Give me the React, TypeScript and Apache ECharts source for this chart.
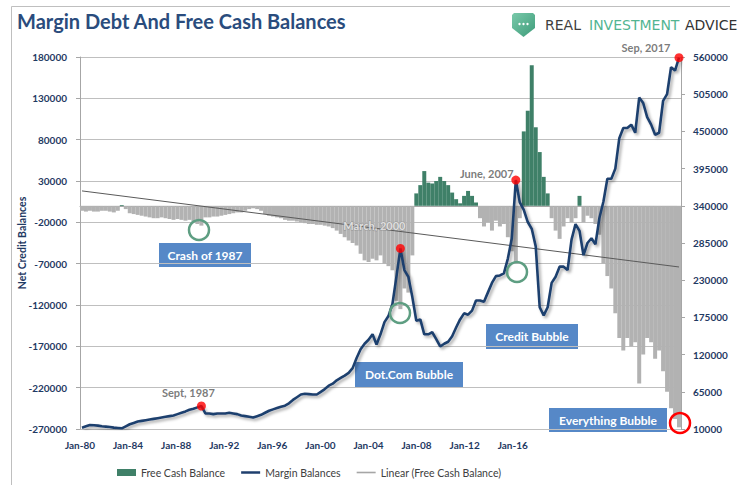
import React, { useEffect, useRef } from 'react';
import * as echarts from 'echarts';

// Quarterly categories, 1980 Q1 .. 2017 Q3
const startYear = 1980;
const quarterCount = 151;
const quarters: string[] = Array.from({ length: quarterCount }, (_, i) => `${startYear + Math.floor(i / 4)}Q${(i % 4) + 1}`);

const xTickLabels = ['Jan-80', 'Jan-84', 'Jan-88', 'Jan-92', 'Jan-96', 'Jan-00', 'Jan-04', 'Jan-08', 'Jan-12', 'Jan-16'];

// Margin balances (right axis), quarterly
const marginBalances = [
  12000, 14000, 16000, 15500, // 1980
  15000, 14000, 13500, 13000, // 1981
  12000, 11500, 11000, 14000, // 1982
  17000, 19000, 21000, 22000, // 1983
  23000, 24000, 25000, 26000, // 1984
  27000, 28000, 29000, 30000, // 1985
  32000, 34000, 36000, 38500, // 1986
  40000, 42000, 44000, 33000, // 1987
  33000, 32000, 33000, 33000, // 1988
  33000, 34000, 33000, 32000, // 1989
  30000, 29000, 28000, 27000, // 1990
  29000, 31000, 34000, 37000, // 1991
  39000, 41000, 43000, 44500, // 1992
  48000, 53000, 57000, 61000, // 1993
  62000, 61500, 61000, 61000, // 1994
  65000, 69000, 74000, 77000, // 1995
  82000, 85500, 89000, 93000, // 1996
  100000, 115000, 128000, 136000, // 1997
  142000, 150000, 135000, 150000, // 1998
  168000, 177000, 195000, 235000, // 1999
  277000, 245000, 235000, 205000, // 2000
  170000, 172000, 150000, 150000, // 2001
  153000, 143000, 132000, 136000, // 2002
  139000, 147000, 160000, 172000, // 2003
  181000, 179000, 185000, 200000, // 2004
  200000, 198000, 212000, 226000, // 2005
  236000, 237000, 240000, 262000, // 2006
  292000, 378000, 345000, 334000, // 2007
  316000, 306000, 280000, 190000, // 2008
  178000, 190000, 226000, 235000, // 2009
  250000, 250000, 245000, 290000, // 2010
  313000, 303000, 267000, 285000, // 2011
  292000, 283000, 322000, 346000, // 2012
  380000, 380000, 395000, 440000, // 2013
  455000, 455000, 460000, 448000, // 2014
  500000, 492000, 471000, 460000, // 2015
  445000, 448000, 495000, 505000, // 2016
  545000, 540000, 559000, // 2017
];

// Free cash balance (left axis), quarterly
const freeCash = [
  -6000, -7000, -6000, -7000, // 1980
  -7000, -6000, -6000, -7000, // 1981
  -8000, -6000, 1000, -4000, // 1982
  -9000, -10000, -11000, -12000, // 1983
  -13000, -14000, -15000, -15000, // 1984
  -14000, -15000, -16000, -17000, // 1985
  -16000, -17000, -18000, -17000, // 1986
  -19000, -22000, -24000, -14000, // 1987
  -14000, -13000, -13000, -12000, // 1988
  -11000, -10000, -9000, -8000, // 1989
  -8000, -6000, -4000, -3000, // 1990
  -4000, -6000, -10000, -12000, // 1991
  -13000, -14000, -15000, -17000, // 1992
  -18000, -18000, -19000, -20000, // 1993
  -21000, -22000, -22000, -23000, // 1994
  -23000, -24000, -25000, -27000, // 1995
  -30000, -34000, -38000, -42000, // 1996
  -45000, -48000, -58000, -66000, // 1997
  -68000, -64000, -66000, -60000, // 1998
  -70000, -73000, -78000, -115000, // 1999
  -125000, -100000, -105000, -60000, // 2000
  15000, 25000, 42000, 28000, // 2001
  27000, 30000, 35000, 30000, // 2002
  25000, 16000, 8000, 3000, // 2003
  12000, 18000, 12000, 4000, // 2004
  -15000, -25000, -20000, -30000, // 2005
  -18000, -25000, -22000, -38000, // 2006
  -55000, -70000, -15000, 90000, // 2007
  115000, 170000, 95000, 65000, // 2008
  35000, 15000, -15000, -30000, // 2009
  -40000, -25000, -15000, -20000, // 2010
  -15000, 12000, -20000, -12000, // 2011
  -15000, -22000, -35000, -70000, // 2012
  -85000, -100000, -130000, -160000, // 2013
  -175000, -160000, -170000, -165000, // 2014
  -215000, -180000, -160000, -165000, // 2015
  -185000, -175000, -200000, -225000, // 2016
  -245000, -258000, -268000, // 2017
];

// Linear trend of free cash balance (endpoints)
const trendStart = 18000;
const trendEnd = -74000;

// Highlighted points on the margin line
const highlights = [
  { quarter: '1987Q3', text: 'Sept, 1987', offset: [-13, 1], color: '#595959' },
  { quarter: '2000Q1', text: 'March, 2000', offset: [-26, -8], color: '#F2F2F2' },
  { quarter: '2007Q2', text: 'June, 2007', offset: [-29, 8], color: '#595959' },
  { quarter: '2017Q3', text: 'Sep, 2017', offset: [-33, 5], color: '#595959' },
];

const GREEN = '#3F8068';
const GRAY = '#B2B2B2';
const NAVY = '#1F3F6E';
const TREND = '#5A5A5A';
const AXIS_TEXT = '#1F3A63';
const BOX = '#5688C7';

export default function App() {
  const ref = useRef<HTMLDivElement>(null);

  useEffect(() => {
    if (!ref.current) return;
    const chart = echarts.init(ref.current, undefined, { renderer: 'svg' });

    const labelFont = { fontFamily: 'Lato', fontWeight: 'bold' as const, fontSize: 10, color: AXIS_TEXT };
    const plain = (v: number) => String(v);

    const box = (x: number, y: number, w: number, h: number, text: string) => ({
      type: 'group',
      z: 100,
      children: [
        { type: 'rect', shape: { x, y, width: w, height: h }, style: { fill: BOX } },
        {
          type: 'text',
          x: x + w / 2,
          y: y + h / 2,
          style: {
            text,
            fill: '#FFFFFF',
            font: 'bold 12px Lato',
            textAlign: 'center',
            textVerticalAlign: 'middle',
          },
        },
      ],
    });

    const ring = (cx: number, cy: number, color: string) => ({
      type: 'circle',
      z: 100,
      shape: { cx, cy, r: 10 },
      style: { fill: 'none', stroke: color, lineWidth: 2.5 },
    });

    const option: any = {
      animation: false,
      backgroundColor: '#FFFFFF',
      textStyle: { fontFamily: 'Lato' },
      grid: { left: 80, right: 62, top: 57, height: 372, containLabel: false },
      legend: {
        top: 462,
        left: 112,
        itemWidth: 19,
        itemHeight: 7,
        itemGap: 16,
        textStyle: { fontFamily: 'Lato', fontSize: 10.5, color: '#404040' },
        data: [
          { name: 'Free Cash Balance', icon: 'rect', itemStyle: { color: GREEN, borderWidth: 0 } },
          { name: 'Margin Balances', icon: 'path://M0,0H76V10H0Z', itemStyle: { color: NAVY, borderWidth: 0 } },
          { name: 'Linear (Free Cash Balance)', icon: 'path://M0,0H95V8H0Z', itemStyle: { color: '#A6A6A6', borderWidth: 0 } },
        ],
      },
      xAxis: [
        {
          type: 'category',
          data: quarters,
          boundaryGap: true,
          axisLine: { show: true, lineStyle: { color: '#A6A6A6' } },
          axisTick: { show: false },
          axisLabel: { show: false },
          splitLine: { show: false },
        },
        {
          type: 'value',
          min: 0,
          max: 12.5,
          interval: 1,
          position: 'bottom',
          axisLine: { show: false },
          axisTick: { show: false },
          splitLine: { show: false },
          axisLabel: {
            ...labelFont,
            margin: 11,
            formatter: (v: number) => xTickLabels[Math.round(v)] ?? '',
          },
        },
      ],
      yAxis: [
        {
          type: 'value',
          min: -270000,
          max: 180000,
          interval: 50000,
          name: 'Net Credit Balances',
          nameLocation: 'middle',
          nameRotate: 90,
          nameGap: 53,
          nameMoveOverlap: false,
          nameTextStyle: { ...labelFont, fontSize: 10.5 },
          axisLine: { show: true, lineStyle: { color: '#A6A6A6' } },
          axisTick: { show: true, length: 4, lineStyle: { color: '#A6A6A6' } },
          axisLabel: { ...labelFont, margin: 13, formatter: plain },
          splitLine: { show: true, lineStyle: { color: '#BFBFBF', width: 1 } },
        },
        {
          type: 'value',
          min: 10000,
          max: 560000,
          interval: 55000,
          position: 'right',
          axisLine: { show: true, lineStyle: { color: '#A6A6A6' } },
          axisTick: { show: true, length: 4, lineStyle: { color: '#A6A6A6' } },
          axisLabel: { ...labelFont, margin: 12, formatter: plain },
          splitLine: { show: false },
        },
      ],
      series: [
        {
          name: 'Free Cash Balance',
          type: 'bar',
          xAxisIndex: 0,
          yAxisIndex: 0,
          barCategoryGap: '0%',
          itemStyle: { color: GREEN },
          data: freeCash.map((v) => ({ value: v, itemStyle: { color: v >= 0 ? GREEN : GRAY } })),
          z: 1,
        },
        {
          name: 'Linear (Free Cash Balance)',
          type: 'line',
          xAxisIndex: 0,
          yAxisIndex: 0,
          symbol: 'none',
          lineStyle: { color: TREND, width: 1 },
          itemStyle: { color: TREND },
          data: [
            [quarters[0], trendStart],
            [quarters[quarters.length - 1], trendEnd],
          ],
          z: 3,
        },
        {
          name: 'Margin Balances',
          type: 'line',
          xAxisIndex: 0,
          yAxisIndex: 1,
          symbol: 'none',
          itemStyle: { color: NAVY },
          lineStyle: {
            color: NAVY,
            width: 2.6,
            shadowColor: 'rgba(0,0,0,0.35)',
            shadowBlur: 3,
            shadowOffsetX: 2,
            shadowOffsetY: 2,
          },
          data: marginBalances,
          z: 4,
        },
        {
          name: 'peaks',
          type: 'scatter',
          xAxisIndex: 0,
          yAxisIndex: 1,
          symbolSize: 9,
          itemStyle: { color: '#FF0000' },
          z: 5,
          data: highlights.map((h) => ({
            value: [h.quarter, marginBalances[quarters.indexOf(h.quarter)]],
            label: {
              show: true,
              position: 'top',
              offset: h.offset,
              formatter: h.text,
              fontFamily: 'Lato',
              fontWeight: 'bold',
              fontSize: 11,
              color: h.color,
              textBorderColor: h.color === '#F2F2F2' ? '#8C8C8C' : 'transparent',
              textBorderWidth: h.color === '#F2F2F2' ? 1 : 0,
            },
          })),
        },
      ],
      graphic: [
        { type: 'line', shape: { x1: 11.5, y1: 6.5, x2: 730, y2: 6.5 }, style: { stroke: '#BFBFBF', lineWidth: 1 } },
        { type: 'line', shape: { x1: 11.5, y1: 6.5, x2: 11.5, y2: 490 }, style: { stroke: '#BFBFBF', lineWidth: 1 } },
        {
          type: 'text',
          x: 17,
          y: 21,
          style: {
            text: 'Margin Debt And Free Cash Balances',
            font: 'bold 20px Lato',
            fill: '#2A4C7D',
            textVerticalAlign: 'middle',
          },
        },
        {
          type: 'polygon',
          shape: { points: [[512, 15], [514, 13], [533, 13], [535, 15], [535, 28], [523.5, 37], [512, 28]] },
          style: {
            fill: new echarts.graphic.LinearGradient(0, 0, 1, 1, [
              { offset: 0, color: '#79C9AA' },
              { offset: 1, color: '#3E9C7A' },
            ]),
          },
        },
        { type: 'circle', shape: { cx: 519.5, cy: 24, r: 1.2 }, style: { fill: '#FFFFFF' } },
        { type: 'circle', shape: { cx: 523.5, cy: 24, r: 1.2 }, style: { fill: '#FFFFFF' } },
        { type: 'circle', shape: { cx: 527.5, cy: 24, r: 1.2 }, style: { fill: '#FFFFFF' } },
        { type: 'text', x: 545, y: 25, style: { text: 'REAL', font: '14px "DejaVu Sans"', fill: '#3F3F3F', textVerticalAlign: 'middle' } },
        { type: 'text', x: 589, y: 25, style: { text: 'INVESTMENT', font: '14px "DejaVu Sans"', fill: '#52B592', textVerticalAlign: 'middle' } },
        { type: 'text', x: 685, y: 25, style: { text: 'ADVICE', font: '14px "DejaVu Sans"', fill: '#333333', textVerticalAlign: 'middle' } },
        box(159, 243, 92, 24, 'Crash of 1987'),
        box(355, 362, 108, 25, 'Dot.Com Bubble'),
        box(486, 324, 92, 25, 'Credit Bubble'),
        box(549, 408, 118, 24, 'Everything Bubble'),
        ring(199, 230, '#5E9E82'),
        ring(400, 313, '#5E9E82'),
        ring(517, 272, '#5E9E82'),
        ring(680, 423, '#FF0000'),
      ],
    };

    chart.setOption(option);
    return () => chart.dispose();
  }, []);

  return <div ref={ref} style={{ position: 'absolute', left: 0, top: 0, width: 743, height: 485 }} />;
}
